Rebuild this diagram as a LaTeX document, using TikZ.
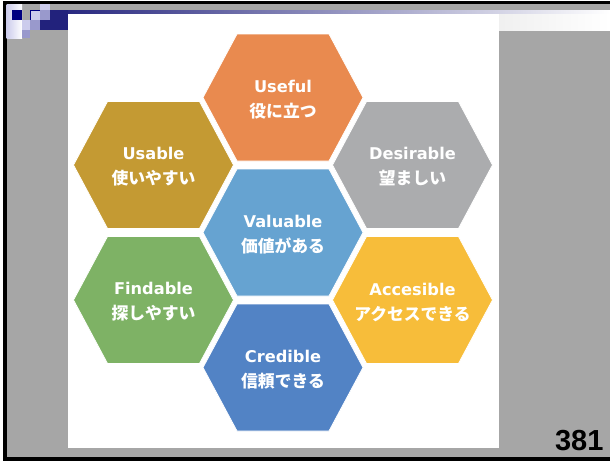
\documentclass[tikz,border=0pt]{standalone}
\usepackage{fontspec}
\setmainfont{Liberation Sans}
\newfontfamily\enfont{DejaVu Sans}
\newfontfamily\jpfont{Noto Sans CJK JP}
\usepackage{tikz}
\usetikzlibrary{backgrounds}
\definecolor{slidegray}{RGB}{166,166,166}
\definecolor{pixnavy}{RGB}{0,0,128}
\definecolor{pixdark}{RGB}{34,34,124}
\definecolor{pixmid}{RGB}{153,153,204}
\definecolor{pixlight}{RGB}{204,204,236}
\definecolor{hexorange}{RGB}{233,138,79}
\definecolor{hexgold}{RGB}{196,154,51}
\definecolor{hexgray}{RGB}{171,172,174}
\definecolor{hexsky}{RGB}{102,163,209}
\definecolor{hexgreen}{RGB}{126,178,101}
\definecolor{hexyellow}{RGB}{247,189,58}
\definecolor{hexblue}{RGB}{82,131,197}
\newcommand{\en}[1]{{\enfont\bfseries\fontsize{16.2}{25}\selectfont #1}}

\begin{document}
\begin{tikzpicture}[
  x=1pt, y=-1pt,
  cell/.style={text=white, align=center, inner sep=0pt,
               font=\jpfont\bfseries\fontsize{16.8}{25}\selectfont},
  hexpath/.style={insert path={([xshift=-80pt,yshift=2pt]#1.center) -- ++(34pt,63.5pt)
                  -- ++(92pt,0pt) -- ++(34pt,-63.5pt) -- ++(-34pt,-63.5pt)
                  -- ++(-92pt,0pt) -- cycle}},
  hex/.style={draw=white, line width=0.8pt},
]
\useasboundingbox (0,0) rectangle (610,461);

% the seven cells, all placed from the middle one
\node[cell] (valuable) at (283,234.5) {\en{Valuable}\\価値がある};
\node[cell] (useful) at ([yshift=135pt]valuable.center) {\en{Useful}\\役に立つ};
\node[cell] (credible) at ([yshift=-135pt]valuable.center) {\en{Credible}\\信頼できる};
\node[cell] (usable) at ([shift={(-129.5pt,67.5pt)}]valuable.center) {\en{Usable}\\使いやすい};
\node[cell] (desirable) at ([shift={(129.5pt,67.5pt)}]valuable.center) {\en{Desirable}\\望ましい};
\node[cell] (findable) at ([shift={(-129.5pt,-67.5pt)}]valuable.center) {\en{Findable}\\探しやすい};
\node[cell] (accesible) at ([shift={(129.5pt,-67.5pt)}]valuable.center) {\en{Accesible}\\アクセスできる};

\node[font=\fontsize{29}{30}\selectfont\bfseries, anchor=base east] (pageno)
  at (607,450) {381};

\begin{scope}[on background layer]
  % slide frame
  \fill[black] (3,0.5) rectangle (610,461);
  \fill[slidegray] (6.5,4) rectangle (610,456.5);
  \shade[left color=pixdark, right color=white] (50,10) rectangle (610,14);
  \shade[left color=gray!12, right color=white] (499,14) rectangle (610,30);
  % corner pixels
  \shade[left color=pixlight, right color=white] (6.5,4) rectangle (22,38);
  \fill[pixnavy] (12,10) rectangle (22,20);
  \fill[pixlight, draw=pixnavy, line width=0.8pt] (30.5,10.5) rectangle (40,20);
  \fill[pixlight] (40,4) rectangle (50,10);
  \fill[pixmid] (40,10) rectangle (50,20);
  \fill[pixdark] (50,10) rectangle (68,20);
  \fill[pixdark] (40,20) rectangle (68,30);
  \fill[pixlight] (22,20) rectangle (30,30);
  \fill[pixmid] (30,20) rectangle (40,30);
  \fill[pixmid] (22,30) rectangle (30,38);
  % page
  \fill[white] (67.5,14) rectangle (499,448);
  % hexagons
  \fill[hexorange, hex, hexpath=useful];
  \fill[hexgold, hex, hexpath=usable];
  \fill[hexgray, hex, hexpath=desirable];
  \fill[hexsky, hex, hexpath=valuable];
  \fill[hexgreen, hex, hexpath=findable];
  \fill[hexyellow, hex, hexpath=accesible];
  \fill[hexblue, hex, hexpath=credible];
\end{scope}
\end{tikzpicture}
\end{document}
